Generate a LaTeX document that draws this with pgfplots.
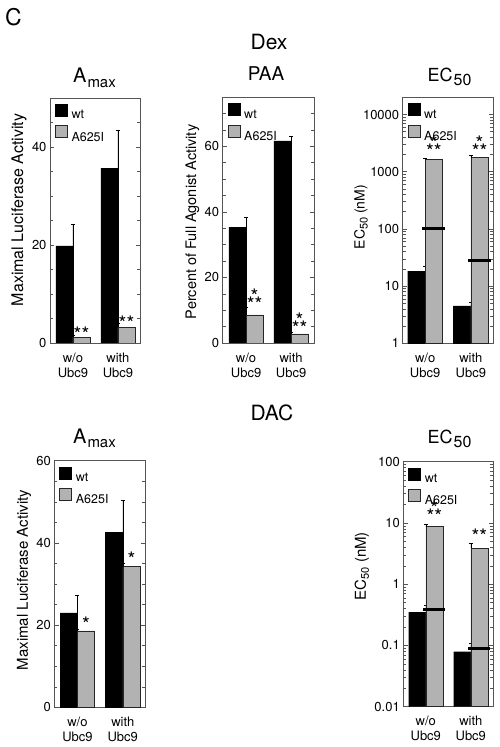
\documentclass[border=0pt]{standalone}
\usepackage{fontspec}
\setmainfont{TeX Gyre Heros}
\usepackage{pgfplots}
\pgfplotsset{compat=1.18}
\definecolor{mutgray}{RGB}{178,178,178}
\definecolor{framec}{RGB}{85,85,85}
\newcommand{\fs}[1]{\fontsize{#1}{#1}\selectfont}
\newcommand{\pyr}{\makebox[0pt][l]{\hphantom{*}\makebox[0pt]{\raisebox{7.8pt}{*}}}**}
\pgfplotsset{
  panel/.style={
    scale only axis,
    axis line style={framec, line width=0.7pt},
    every tick/.style={framec, line width=0.5pt},
    xtick={1,2},
    xticklabels={{w/o\\Ubc9},{with\\Ubc9}},
    xticklabel style={align=center, font=\fontsize{13}{15}\selectfont, yshift=-6pt},
    major x tick style={draw=none},
    tick align=inside,
    yticklabel style={font=\fs{13}},
    /pgf/number format/assume math mode=true,
    legend style={draw=none, fill=none, font=\fs{12.5}, anchor=north west,
      at={(axis description cs:0.02,0.985)}, row sep=4pt, column sep=3pt,
      nodes={inner sep=1pt}},
    legend cell align=left,
  },
  wtbar/.style={ybar, bar width=0.38, bar shift=-0.19, fill=black, draw=black, line width=0.4pt,
    error bars/y dir=plus, error bars/y explicit,
    error bars/error mark options={rotate=90, mark size=2pt, black, line width=0.5pt},
    error bars/error bar style={black, line width=0.5pt},
    legend image code/.code={\draw[fill=black, draw=black] (0pt,-0.5pt) rectangle (12pt,11.5pt);}},
  mubar/.style={ybar, bar width=0.38, bar shift=0.19, fill=mutgray, draw=black!85, line width=0.5pt,
    error bars/y dir=plus, error bars/y explicit,
    error bars/error mark options={rotate=90, mark size=2pt, black, line width=0.5pt},
    error bars/error bar style={black, line width=0.5pt},
    legend image code/.code={\draw[fill=mutgray, draw=black!85, line width=0.5pt] (0pt,-0.5pt) rectangle (12pt,11.5pt);}},
  hline/.style={black, line width=3pt, forget plot},
}
\tikzset{
  sig/.style={font=\fs{20}, inner sep=0pt, anchor=base, yshift=-11.6pt},
}
\begin{document}
\begin{tikzpicture}
\useasboundingbox (0,0) rectangle (499pt,747pt);
% titles
\node[font=\fs{23}] at (13.5pt,729.5pt) {C};
\node[font=\fs{21}] at (269pt,704.5pt) {Dex};
\node[font=\fs{19}] at (266pt,673pt) {PAA};
\node[font=\fs{20}, anchor=base] at (94.5pt,664pt) {A\kern1pt\raisebox{-4.5pt}{\fs{15}max}};
\node[font=\fs{18}, anchor=base] at (449.5pt,665pt) {EC\kern1pt\raisebox{-4pt}{\fs{16}50}};
\node[font=\fs{21}] at (272pt,334pt) {DAC};
\node[font=\fs{20}, anchor=base] at (94.5pt,303.7pt) {A\kern1pt\raisebox{-4.5pt}{\fs{15}max}};
\node[font=\fs{18}, anchor=base] at (449.5pt,303.7pt) {EC\kern1pt\raisebox{-4pt}{\fs{16}50}};

% ---- Dex Amax
\begin{axis}[panel, at={(50pt,404pt)}, anchor=south west, width=90pt, height=245pt,
  xmin=0.49, xmax=2.49, ymin=0, ymax=50, ytick={0,20,40},
  minor ytick={5,10,15,25,30,35,45},
  ylabel={Maximal Luciferase Activity},
  ylabel style={at={(axis description cs:-0.344,0.543)}, anchor=center, font=\fs{16}}]
\addplot[wtbar] coordinates {(1,19.8) +- (0,4.5) (2,35.7) +- (0,7.8)};
\addlegendentry{wt}
\addplot[mubar] coordinates {(1,1.2) +- (0,0.3) (2,3.2) +- (0,0.8)};
\addlegendentry{A625I}
\node[sig] at (axis cs:1.19,2.65) {**};
\node[sig] at (axis cs:2.19,5.0) {**};
\end{axis}

% ---- Dex PAA
\begin{axis}[panel, at={(222.7pt,404pt)}, anchor=south west, width=91.3pt, height=246pt,
  xmin=0.48, xmax=2.51, ymin=0, ymax=75, ytick={0,20,40,60},
  minor ytick={5,10,15,25,30,35,45,50,55,65,70},
  ylabel={Percent of Full Agonist Activity},
  ylabel style={at={(axis description cs:-0.331,0.492)}, anchor=center, font=\fs{14.5}}]
\addplot[wtbar] coordinates {(1,35.3) +- (0,3.0) (2,61.6) +- (0,1.3)};
\addlegendentry{wt}
\addplot[mubar] coordinates {(1,8.6) +- (0,2.4) (2,2.8) +- (0,0.6)};
\addlegendentry{A625I}
\node[sig] at (axis cs:1.19,13.1) {\pyr};
\node[sig] at (axis cs:2.19,5.8) {\pyr};
\end{axis}

% ---- Dex EC50
\begin{axis}[panel, ymode=log, log origin y=infty, at={(402.7pt,403.7pt)}, anchor=south west,
  width=90.6pt, height=246pt,
  xmin=0.51, xmax=2.49, ymin=1, ymax=20000,
  ytick={1,10,100,1000,10000}, yticklabels={1,10,100,1000,10000},
  minor ytick={2,3,4,5,6,7,8,9,20,30,40,50,60,70,80,90,200,300,400,500,600,700,800,900,2000,3000,4000,5000,6000,7000,8000,9000},
  ylabel={EC\raisebox{-3pt}{\fs{11}50} (nM)},
  ylabel style={at={(axis description cs:-0.46,0.513)}, anchor=center, font=\fs{14}}]
\addplot[wtbar] coordinates {(1,18.3) +- (0,3.5) (2,4.5) +- (0,0.8)};
\addlegendentry{wt}
\addplot[mubar] coordinates {(1,1645) +- (0,80) (2,1763) +- (0,140)};
\addlegendentry{A625I}
\addplot[hline] coordinates {(0.94,102) (1.44,102)};
\addplot[hline] coordinates {(1.94,27.7) (2.44,27.7)};
\node[sig] at (axis cs:1.19,2704) {\pyr};
\node[sig] at (axis cs:2.19,2704) {\pyr};
\end{axis}

% ---- DAC Amax
\begin{axis}[panel, at={(54.3pt,39.7pt)}, anchor=south west, width=90.7pt, height=246.6pt,
  xmin=0.49, xmax=2.49, ymin=0, ymax=60, ytick={0,20,40,60},
  minor ytick={5,10,15,25,30,35,45,50,55},
  ylabel={Maximal Luciferase Activity},
  ylabel style={at={(axis description cs:-0.334,0.516)}, anchor=center, font=\fs{15}}]
\addplot[wtbar] coordinates {(1,23.0) +- (0,4.3) (2,42.6) +- (0,7.8)};
\addlegendentry{wt}
\addplot[mubar] coordinates {(1,18.6) +- (0,0.3) (2,34.2) +- (0,0.8)};
\addlegendentry{A625I}
\node[sig] at (axis cs:1.19,21.2) {*};
\node[sig] at (axis cs:2.19,37.1) {*};
\end{axis}

% ---- DAC EC50
\begin{axis}[panel, ymode=log, log origin y=infty, at={(403.3pt,40.3pt)}, anchor=south west,
  width=90pt, height=245pt,
  xmin=0.50, xmax=2.50, ymin=0.01, ymax=100,
  ytick={0.01,0.1,1,10,100}, yticklabels={0.01,0.1,1,10,100},
  minor ytick={0.02,0.03,0.04,0.05,0.06,0.07,0.08,0.09,0.2,0.3,0.4,0.5,0.6,0.7,0.8,0.9,2,3,4,5,6,7,8,9,20,30,40,50,60,70,80,90},
  ylabel={EC\raisebox{-3pt}{\fs{11}50} (nM)},
  ylabel style={at={(axis description cs:-0.46,0.574)}, anchor=center, font=\fs{15}}]
\addplot[wtbar] coordinates {(1,0.35) +- (0,0.10) (2,0.079) +- (0,0.029)};
\addlegendentry{wt}
\addplot[mubar] coordinates {(1,8.7) +- (0,1.0) (2,3.87) +- (0,0.8)};
\addlegendentry{A625I}
\addplot[hline] coordinates {(0.94,0.39) (1.43,0.39)};
\addplot[hline] coordinates {(1.94,0.089) (2.43,0.089)};
\node[sig] at (axis cs:1.19,15.1) {\pyr};
\node[sig] at (axis cs:2.19,7.25) {**};
\end{axis}
\end{tikzpicture}
\end{document}
